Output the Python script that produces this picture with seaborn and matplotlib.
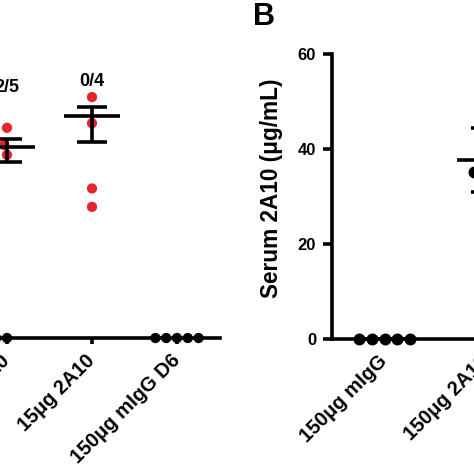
import numpy as np
import pandas as pd
import matplotlib
matplotlib.use("Agg")
import matplotlib.pyplot as plt
import seaborn as sns

sns.set_style("ticks")
plt.rcParams['font.family'] = ['Liberation Sans', 'DejaVu Sans']
plt.rcParams['font.weight'] = 'bold'
plt.rcParams['axes.linewidth'] = 2.6
plt.rcParams['axes.edgecolor'] = 'black'
plt.rcParams['text.color'] = 'black'
plt.rcParams['axes.labelcolor'] = 'black'
plt.rcParams['xtick.color'] = 'black'
plt.rcParams['ytick.color'] = 'black'

#%%
# panel A : liver burden (log axis), only the right part is in the crop
groups_a = ["150μg 2A10", "15μg 2A10", "150μg mIgG D6"]
values_a = [[4.8e5, 1.65e5, 8.9e4, 0, 0],
            [3.25e6, 6.4e5, 1.1e4, 3.5e3],
            [0, 0, 0, 0, 0]]
protected_a = ["2/5", "0/4", ""]
label_y_a = [6.0e6, 8.3e6]

# panel B : serum 2A10 (ug/mL)
groups_b = ["150μg mIgG", "150μg 2A10"]
values_b = [[0, 0, 0, 0, 0],
            [18, 34.5, 35.2, 41, 59.8]]

red = "#E3262B"
floor_a = 1.0

def long_table(groups, values):
    rows = []
    for g, v in zip(groups, values):
        for x in v:
            rows.append((g, x))
    df = pd.DataFrame(rows, columns=["group", "value"])
    df["status"] = np.where(df["value"] > 0, "pos", "zero")
    return df

def mean_sem(values):
    m = np.array([np.mean(v) for v in values])
    s = np.array([np.std(v, ddof=1) / np.sqrt(len(v)) for v in values])
    return m, s

df_a = long_table(groups_a, values_a)
df_a["plot"] = df_a["value"].clip(lower=floor_a)
df_b = long_table(groups_b, values_b)

fig = plt.figure(figsize=(4.74, 4.74), dpi=100)
ax1 = fig.add_axes([-0.0749, 0.2869, 0.538, 0.6245])
ax2 = fig.add_axes([0.7004, 0.2848, 0.452, 0.6013])

#%%
# panel A
sns.swarmplot(data=df_a, x="group", y="plot", hue="status",
              palette={"pos": red, "zero": "black"}, size=7.4,
              legend=False, log_scale=(False, True), ax=ax1)
ax1.set_ylim(floor_a, 1e8)
ax1.set_xlim(-0.5, len(groups_a) - 0.5)
m_a, s_a = mean_sem(values_a)
xa = np.arange(len(groups_a))
ok = m_a > 0
ax1.hlines(m_a[ok], xa[ok] - 0.33, xa[ok] + 0.33, color="black", lw=2.6, zorder=4)
ax1.errorbar(xa[ok], m_a[ok], yerr=s_a[ok], fmt="none", ecolor="black",
             elinewidth=2.6, capsize=10.8, capthick=2.6, zorder=4)
for i, t in enumerate(protected_a):
    if t:
        ax1.text(i, label_y_a[i], t, ha="center", va="center",
                 fontsize=13, fontweight="bold")

#%%
# panel B
sns.swarmplot(data=df_b, x="group", y="value", color="black", size=8.6,
              ax=ax2)
ax2.set_ylim(0, 60)
ax2.set_yticks([0, 20, 40, 60])
ax2.set_xlim(-0.52, 1.6)
m_b, s_b = mean_sem(values_b)
xb = np.arange(len(groups_b))
ax2.hlines(m_b, xb - 0.28, xb + 0.28, color="black", lw=2.6, zorder=4)
ax2.errorbar(xb, m_b, yerr=s_b, fmt="none", ecolor="black",
             elinewidth=2.6, capsize=10.8, capthick=2.6, zorder=4)
ax2.set_ylabel("Serum 2A10 (μg/mL)", fontsize=16.3, fontweight="bold")
ax2.yaxis.set_label_coords(-0.23, 0.53)
fig.text(253 / 474, 1 - 25 / 474, "B", fontsize=22, fontweight="bold",
         ha="left", va="baseline")

for ax in (ax1, ax2):
    sns.despine(ax=ax)
    for c in ax.collections:
        c.set_clip_on(False)
    ax.set_xlabel("")
    ax.tick_params(axis="y", length=6.5, width=2.6, labelsize=12, pad=5)
    ax.tick_params(axis="x", length=4, width=2.6, labelsize=14.4, pad=10)
    for lab in ax.get_xticklabels():
        lab.set_rotation(45)
        lab.set_ha("right")
        lab.set_va("center")
        lab.set_rotation_mode("anchor")
        lab.set_fontweight("bold")
    for lab in ax.get_yticklabels():
        lab.set_fontweight("bold")
ax1.minorticks_off()

fig.savefig("out.png", dpi=100)
